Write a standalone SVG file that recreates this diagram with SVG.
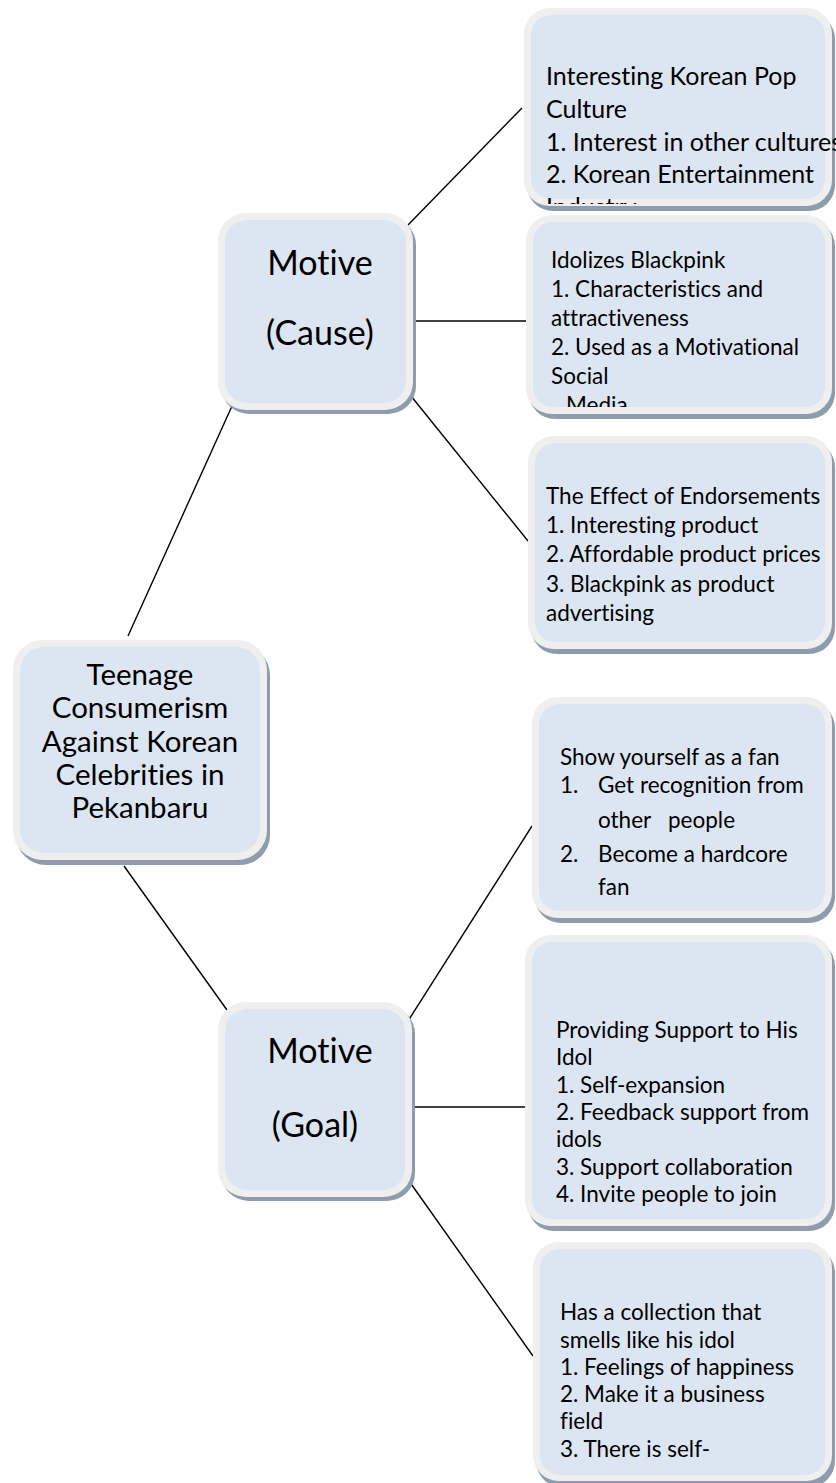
<svg xmlns="http://www.w3.org/2000/svg" width="836" height="1483" viewBox="0 0 836 1483">
<style>
.sh{fill:#8e9cae}
.ou{fill:#efefef}
.in{fill:#dce6f2}
.t{font-family:Lato,"Liberation Sans",sans-serif;fill:#000;font-variant-ligatures:none;font-feature-settings:"liga" 0,"clig" 0}
.r{font-size:22.5px}
.b1{font-size:25px}
.c{font-size:29.5px;text-anchor:middle}
.m{font-size:34px;text-anchor:middle}
.ln{stroke:#000;stroke-width:1.4;fill:none}
</style>
<defs>
<clipPath id="cp1"><rect x="520" y="0" width="316" height="204"/></clipPath>
<clipPath id="cp2"><rect x="520" y="210" width="316" height="197"/></clipPath>
</defs>
<rect width="836" height="1483" fill="#fff"/>
<g id="connectors">
<line class="ln" x1="128" y1="636" x2="232" y2="406"/>
<line class="ln" x1="124" y1="866" x2="227" y2="1010"/>
<line class="ln" x1="408" y1="225" x2="522" y2="108"/>
<line class="ln" x1="413" y1="321" x2="526" y2="321"/>
<line class="ln" x1="411" y1="396" x2="528" y2="541"/>
<line class="ln" x1="408" y1="1021" x2="532" y2="826"/>
<line class="ln" x1="411" y1="1107" x2="526" y2="1107"/>
<line class="ln" x1="409" y1="1181" x2="533" y2="1356"/>
</g>
<g id="center">
<rect class="sh" x="16" y="645" width="254" height="220" rx="30"/>
<rect class="ou" x="13" y="640" width="254" height="220" rx="30"/>
<rect class="in" x="20" y="647" width="240" height="206" rx="24"/>
<text class="t c" x="140"><tspan x="140" y="685">Teenage</tspan><tspan x="140" y="718">Consumerism</tspan><tspan x="140" y="752">Against Korean</tspan><tspan x="140" y="785">Celebrities in</tspan><tspan x="140" y="818">Pekanbaru</tspan></text>
</g>
<g id="motive-cause">
<rect class="sh" x="221" y="217" width="195" height="197" rx="28"/>
<rect class="ou" x="218" y="213" width="195" height="197" rx="28"/>
<rect class="in" x="225" y="220" width="181" height="183" rx="22"/>
<text class="t m" x="320" y="275">Motive</text>
<text class="t m" x="320" y="345">(Cause)</text>
</g>
<g id="motive-goal">
<rect class="sh" x="221" y="1006" width="194" height="195" rx="28"/>
<rect class="ou" x="218" y="1002" width="194" height="195" rx="28"/>
<rect class="in" x="225" y="1009" width="180" height="181" rx="22"/>
<text class="t m" x="320" y="1063">Motive</text>
<text class="t m" x="315" y="1137">(Goal)</text>
</g>
<g id="box1">
<rect class="sh" x="527" y="13" width="308" height="198" rx="26"/>
<rect class="ou" x="524" y="8" width="308" height="198" rx="26"/>
<rect class="in" x="531" y="15" width="294" height="184" rx="20"/>
<text class="t b1" clip-path="url(#cp1)"><tspan x="546" y="85">Interesting Korean Pop</tspan><tspan x="546" y="118">Culture</tspan><tspan x="546" y="151">1. Interest in other cultures</tspan><tspan x="546" y="183">2. Korean Entertainment</tspan><tspan x="546" y="216">Industry</tspan></text>
</g>
<g id="box2">
<rect class="sh" x="529" y="220" width="306" height="199" rx="26"/>
<rect class="ou" x="526" y="215" width="306" height="199" rx="26"/>
<rect class="in" x="533" y="222" width="292" height="185" rx="20"/>
<text class="t r" clip-path="url(#cp2)"><tspan x="551" y="268">Idolizes Blackpink</tspan><tspan x="551" y="297">1. Characteristics and</tspan><tspan x="551" y="326">attractiveness</tspan><tspan x="551" y="355">2. Used as a Motivational</tspan><tspan x="551" y="384">Social</tspan><tspan x="566" y="413">Media</tspan></text>
</g>
<g id="box3">
<rect class="sh" x="531" y="441" width="304" height="213" rx="26"/>
<rect class="ou" x="528" y="436" width="304" height="213" rx="26"/>
<rect class="in" x="535" y="443" width="290" height="199" rx="20"/>
<text class="t r"><tspan x="546" y="504">The Effect of Endorsements</tspan><tspan x="546" y="533">1. Interesting product</tspan><tspan x="546" y="562">2. Affordable product prices</tspan><tspan x="546" y="592">3. Blackpink as product</tspan><tspan x="546" y="621">advertising</tspan></text>
</g>
<g id="box4">
<rect class="sh" x="535" y="702" width="300" height="221" rx="26"/>
<rect class="ou" x="532" y="697" width="300" height="221" rx="26"/>
<rect class="in" x="539" y="704" width="286" height="207" rx="20"/>
<text class="t r"><tspan x="560" y="765">Show yourself as a fan</tspan><tspan x="560" y="793">1.</tspan><tspan x="598" y="793">Get recognition from</tspan><tspan x="598" y="828">other</tspan><tspan x="668" y="828">people</tspan><tspan x="560" y="862">2.</tspan><tspan x="598" y="862">Become a hardcore</tspan><tspan x="598" y="895">fan</tspan></text>
</g>
<g id="box5">
<rect class="sh" x="528" y="940" width="307" height="291" rx="26"/>
<rect class="ou" x="525" y="935" width="307" height="291" rx="26"/>
<rect class="in" x="532" y="942" width="293" height="277" rx="20"/>
<text class="t r"><tspan x="556" y="1038">Providing Support to His</tspan><tspan x="556" y="1065">Idol</tspan><tspan x="556" y="1093">1. Self-expansion</tspan><tspan x="556" y="1120">2. Feedback support from</tspan><tspan x="556" y="1147">idols</tspan><tspan x="556" y="1175">3. Support collaboration</tspan><tspan x="556" y="1202">4. Invite people to join</tspan></text>
</g>
<g id="box6">
<rect class="sh" x="536" y="1247" width="299" height="240" rx="26"/>
<rect class="ou" x="533" y="1242" width="299" height="239" rx="26"/>
<rect class="in" x="540" y="1249" width="285" height="226" rx="20"/>
<text class="t r"><tspan x="560" y="1320">Has a collection that</tspan><tspan x="560" y="1348">smells like his idol</tspan><tspan x="560" y="1375">1. Feelings of happiness</tspan><tspan x="560" y="1402">2. Make it a business</tspan><tspan x="560" y="1429">field</tspan><tspan x="560" y="1457">3. There is self-</tspan></text>
</g>
</svg>
